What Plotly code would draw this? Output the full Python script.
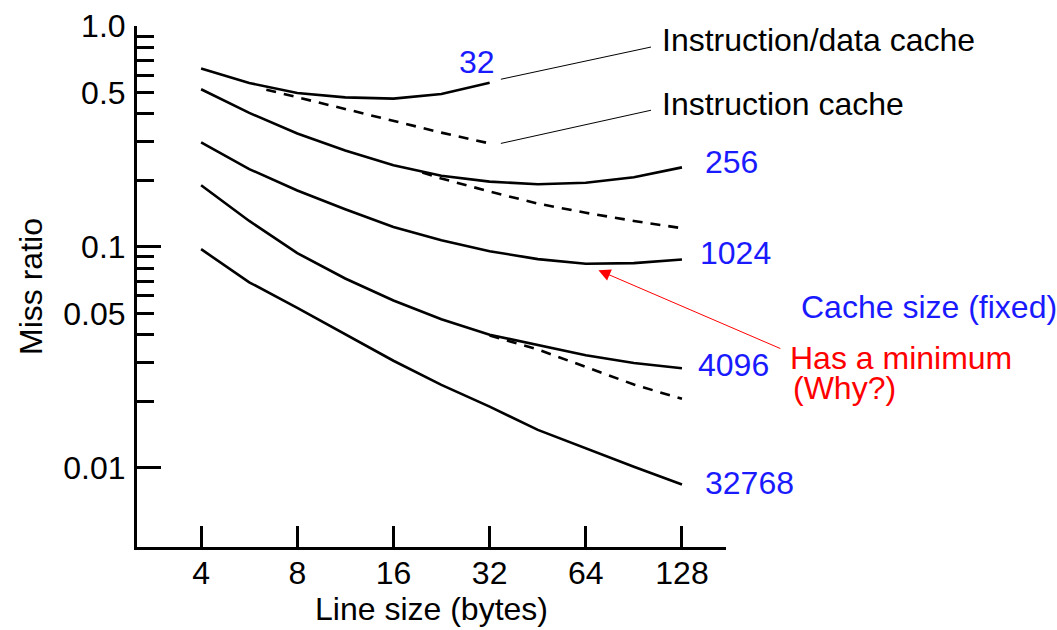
import math
import plotly.graph_objects as go

# ---------------- data ----------------
line_size = [4, 5.66, 8, 11.3, 16, 22.6, 32, 45.3, 64, 90.5, 128]

miss_32 = [0.642, 0.552, 0.497, 0.475, 0.469, 0.492, 0.554]
miss_256 = [0.517, 0.404, 0.326, 0.273, 0.234, 0.210, 0.1975, 0.192, 0.195, 0.2065, 0.229]
miss_1024 = [0.297, 0.225, 0.180, 0.148, 0.123, 0.107, 0.0956, 0.088, 0.0838, 0.0844, 0.0876]
miss_4096 = [0.190, 0.131, 0.0937, 0.0719, 0.0572, 0.047, 0.040, 0.0358, 0.0323, 0.0298, 0.0282]
miss_32768 = [0.0976, 0.0691, 0.0529, 0.0401, 0.0305, 0.0237, 0.0189, 0.01484, 0.01223, 0.0101, 0.0084]

icache_32_size = [6.4, 8, 11.3, 16, 22.6, 32]
icache_32 = [0.515, 0.476, 0.422, 0.371, 0.329, 0.294]
icache_256_size = [19.7, 22.6, 32, 45.3, 64, 90.5, 128]
icache_256 = [0.217, 0.204, 0.178, 0.157, 0.1427, 0.131, 0.1215]
icache_4096_size = [32, 45.3, 64, 90.5, 128]
icache_4096 = [0.0397, 0.0343, 0.0286, 0.0238, 0.0205]

# leader lines (from curve ends to the side labels)
leader_id_x = [34.7, 102.4]
leader_id_y = [0.574, 0.803]
leader_i_x = [34.7, 102.4]
leader_i_y = [0.294, 0.4155]

x_ticks = [4, 8, 16, 32, 64, 128]
y_major = [0.01, 0.05, 0.1, 0.5, 1.0]
y_major_text = ["0.01", "0.05", "0.1", "0.5", "1.0"]
y_long = [0.01, 0.1, 1.0]
y_minor = [0.02, 0.03, 0.04, 0.06, 0.07, 0.08, 0.09, 0.2, 0.3, 0.4, 0.6, 0.7, 0.8, 0.9]

min_point = (70.1, 0.0784)

FONT = "Liberation Sans, Arial, sans-serif"
FS = 32
BLUE = "#1a1aff"
RED = "#ff0000"

fig = go.Figure()

solid = dict(color="black", width=2.6)
dashed = dict(color="black", width=2.6, dash="10px,8px")

for xs, ys, ln in [
    (icache_32_size, icache_32, dashed),
    (icache_256_size, icache_256, dashed),
    (icache_4096_size, icache_4096, dashed),
    (line_size[:len(miss_32)], miss_32, solid),
    (line_size, miss_256, solid),
    (line_size, miss_1024, solid),
    (line_size, miss_4096, solid),
    (line_size, miss_32768, solid),
    (leader_id_x, leader_id_y, dict(color="black", width=1)),
    (leader_i_x, leader_i_y, dict(color="black", width=1)),
]:
    fig.add_trace(go.Scatter(x=xs, y=ys, mode="lines", line=ln,
                             showlegend=False, hoverinfo="skip"))

# dummy trace for long-tick overlay axis
fig.add_trace(go.Scatter(x=[], y=[], yaxis="y2", showlegend=False))

L, R, T, B = 137, 331.3, 25.7, 82.7
W, H = 1057, 630
pw, ph = W - L - R, H - T - B

def px(xp):
    return (xp - L) / pw

def py(yp):
    return (H - B - yp) / ph

yr = [math.log10(0.004375), 0]

fig.update_layout(
    template="none",
    width=W, height=H, autosize=False,
    margin=dict(l=L, r=R, t=T, b=B, pad=0, autoexpand=False),
    plot_bgcolor="white", paper_bgcolor="white",
    font=dict(family=FONT, size=FS, color="black"),
    xaxis=dict(
        type="log", range=[math.log10(2.52), math.log10(175.8)],
        tickvals=x_ticks, ticktext=[str(v) for v in x_ticks],
        ticks="inside", ticklen=21, tickwidth=2.5, tickcolor="black",
        showline=True, linewidth=3, linecolor="black",
        showgrid=False, zeroline=False, automargin=False,
        tickfont=dict(size=FS), ticklabelstandoff=-4,
        title=dict(text="Line size (bytes)", font=dict(size=FS), standoff=2),
    ),
    yaxis=dict(
        type="log", range=yr,
        tickvals=y_major, ticktext=y_major_text,
        ticks="inside", ticklen=17, tickwidth=2.5, tickcolor="black",
        minor=dict(tickvals=y_minor, ticks="inside", ticklen=17,
                   tickwidth=2.5, tickcolor="black", showgrid=False),
        showline=True, linewidth=3, linecolor="black",
        showgrid=False, zeroline=False, automargin=False,
        tickfont=dict(size=FS), ticklabelstandoff=2,
        title=dict(text="Miss ratio", font=dict(size=FS), standoff=12),
    ),
    yaxis2=dict(
        type="log", range=yr, overlaying="y", side="left", anchor="x",
        tickvals=y_long, ticks="inside", ticklen=24, tickwidth=2.5,
        tickcolor="black", showticklabels=False, showline=False,
        showgrid=False, zeroline=False, automargin=False,
    ),
)

labels = [
    ("Instruction/data cache", 661, 40, "black"),
    ("Instruction cache", 661, 103.3, "black"),
    ("32", 458, 61.7, BLUE),
    ("256", 703.3, 161.7, BLUE),
    ("1024", 698.3, 253.3, BLUE),
    ("Cache size (fixed)", 800, 306.7, BLUE),
    ("4096", 696.7, 365, BLUE),
    ("Has a minimum", 788.3, 358.3, RED),
    ("(Why?)", 791.7, 388.3, RED),
    ("32768", 704, 483.3, BLUE),
]
for text, xp, yp, col in labels:
    fig.add_annotation(text=text, xref="paper", yref="paper",
                       x=px(xp), y=py(yp), xanchor="left", yanchor="middle",
                       showarrow=False, font=dict(size=FS, color=col),
                       borderpad=0)

fig.add_annotation(
    x=math.log10(min_point[0]), y=math.log10(min_point[1]),
    xref="x", yref="y", text="", showarrow=True,
    ax=183.4, ay=79, axref="pixel", ayref="pixel",
    arrowhead=2, arrowsize=2.4, arrowwidth=1, arrowcolor=RED, standoff=0,
)

fig.write_html("out.html", config={"displayModeBar": False},
               post_script="document.body.style.margin='0px';")
